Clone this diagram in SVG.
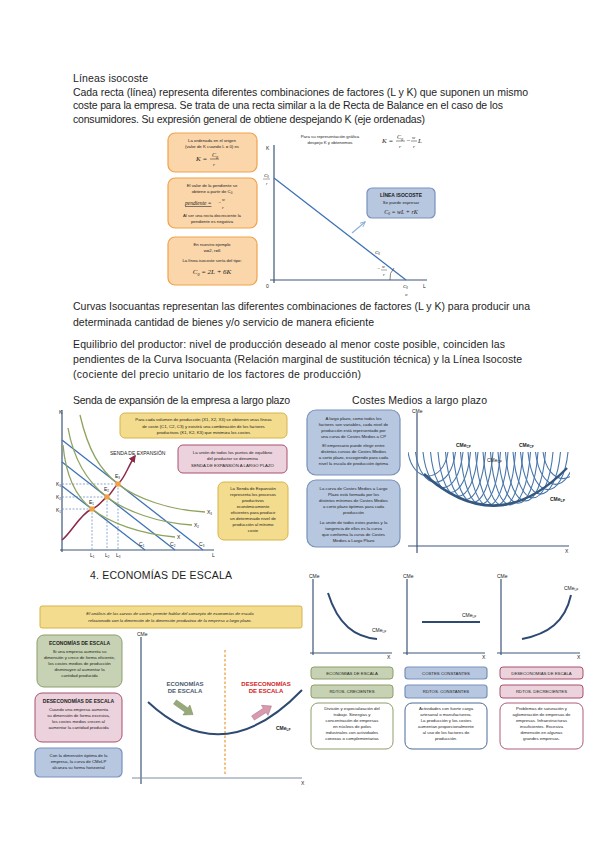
<svg xmlns="http://www.w3.org/2000/svg" width="600" height="848" viewBox="0 0 600 848">
<defs>
<style>
.t{font-family:"Liberation Sans",Arial,sans-serif;font-size:10.5px;fill:#1e1e1e}
.s{font-family:"Liberation Sans",Arial,sans-serif;font-size:4.3px;fill:#222;text-anchor:middle}
.sb{font-family:"Liberation Sans",Arial,sans-serif;font-size:5px;fill:#222;text-anchor:middle;font-weight:bold}
.f{font-family:"Liberation Serif","Times New Roman",serif;font-style:italic;fill:#222}
.lab{font-family:"Liberation Sans",Arial,sans-serif;font-size:5px;fill:#222}
.ax{stroke:#3d5678;stroke-width:1.2;fill:none}
.or{fill:#fad6aa;stroke:#f0a24a;stroke-width:1.2}
.bl{fill:#b7c7e0;stroke:#7892bb;stroke-width:1.2}
.yl{fill:#f4dc8e;stroke:#d6b44c;stroke-width:1}
.pk{fill:#ecd2dc;stroke:#a8506e;stroke-width:1}
.gr{fill:#c6d2b3;stroke:#8d9e6c;stroke-width:1}
.iso{stroke:#3f73b5;stroke-width:1.3;fill:none}
.q{stroke:#8ea35e;stroke-width:1.3;fill:none}
.sr{stroke:#4876aa;stroke-width:1.1;fill:none}
.dash{stroke:#6f94c8;stroke-width:0.8;stroke-dasharray:2,1.5;fill:none}
</style>
<marker id="ah" viewBox="0 0 10 10" refX="8" refY="5" markerWidth="5" markerHeight="5" orient="auto"><path d="M0,0 L10,5 L0,10 z" fill="#8c2a48"/></marker>
<marker id="ab" viewBox="0 0 10 10" refX="8" refY="5" markerWidth="5" markerHeight="5" orient="auto"><path d="M0,1 L9,5 L0,9" fill="none" stroke="#8fb0d8" stroke-width="1.5"/></marker>
<clipPath id="cmclip"><rect x="408" y="440" width="162" height="110"/></clipPath>
</defs>
<rect width="600" height="848" fill="#ffffff"/>

<!-- Top texts -->
<g id="text-top">
<text class="t" x="73" y="82" textLength="75">Líneas isocoste</text>
<text class="t" x="73" y="96" textLength="455">Cada recta (línea) representa diferentes combinaciones de factores (L y K) que suponen un mismo</text>
<text class="t" x="73" y="109" textLength="430">coste para la empresa. Se trata de una recta similar a la de Recta de Balance en el caso de los</text>
<text class="t" x="73" y="123" textLength="352">consumidores. Su expresión general de obtiene despejando K (eje ordenadas)</text>
</g>

<!-- Isocost section -->
<g id="iso-box1">
<rect class="or" x="168" y="133" width="89" height="39" rx="7"/>
<text class="s" x="212" y="142">La ordenada en el origen</text>
<text class="s" x="212" y="148">(valor de K cuando L = 0) es</text>
<text class="f" x="196" y="161" font-size="7">K =</text>
<text class="f" x="212" y="157" font-size="6">C<tspan font-size="4" dy="1.5">0</tspan></text>
<line x1="210" y1="159" x2="219" y2="159" stroke="#222" stroke-width="0.5"/>
<text class="f" x="213" y="166" font-size="5">r</text>
</g>
<g id="iso-box2">
<rect class="or" x="168" y="178" width="89" height="50" rx="7"/>
<text class="s" x="212" y="187">El valor de la pendiente se</text>
<text class="s" x="212" y="193">obtiene a partir de C<tspan font-size="3" dy="1">0</tspan></text>
<text class="f" x="185" y="205" font-size="5.5" text-decoration="underline">pendiente =</text>
<text class="f" x="218" y="204" font-size="5">−</text>
<text class="f" x="222" y="201" font-size="4.5">w</text>
<text class="f" x="222" y="209" font-size="4.5">r</text>
<text class="s" x="212" y="217">Al ser una recta decreciente la</text>
<text class="s" x="212" y="223">pendiente es negativa</text>
</g>
<g id="iso-box3">
<rect class="or" x="168" y="237" width="89" height="48" rx="7"/>
<text class="s" x="212" y="246">En nuestro ejemplo</text>
<text class="s" x="212" y="252">w=2, r=6</text>
<text class="s" x="212" y="262">La línea isocoste sería del tipo:</text>
<text class="f" x="212" y="274" font-size="7" text-anchor="middle">C<tspan font-size="4" dy="1.5">0</tspan><tspan dy="-1.5"> = 2L + 6K</tspan></text>
</g>
<g id="iso-formula">
<text class="s" x="330" y="138">Para su representación gráfica</text>
<text class="s" x="330" y="144">despejo K y obtenemos</text>
<text class="f" x="382" y="143" font-size="7">K =</text>
<text class="f" x="397" y="139" font-size="6">C<tspan font-size="4" dy="1.5">0</tspan></text>
<line x1="396" y1="141" x2="405" y2="141" stroke="#222" stroke-width="0.5"/>
<text class="f" x="399" y="148" font-size="5">r</text>
<text class="f" x="406" y="143" font-size="7">−</text>
<text class="f" x="412" y="139" font-size="5">w</text>
<line x1="411" y1="141" x2="417" y2="141" stroke="#222" stroke-width="0.5"/>
<text class="f" x="413" y="148" font-size="5">r</text>
<text class="f" x="418" y="143" font-size="7">L</text>
</g>
<g id="iso-chart">
<line class="ax" x1="274" y1="145" x2="274" y2="283"/>
<line class="ax" x1="270" y1="280" x2="427" y2="280"/>
<line x1="274" y1="178" x2="406" y2="280" stroke="#3f73b5" stroke-width="1.3"/>
<text class="lab" x="266" y="150">K</text>
<text class="f" x="264" y="177" font-size="5">C<tspan font-size="3" dy="1">0</tspan></text>
<line x1="263" y1="179" x2="270" y2="179" stroke="#222" stroke-width="0.4"/>
<text class="f" x="266" y="185" font-size="4">r</text>
<text class="lab" x="266" y="288">0</text>
<text class="f" x="403" y="288" font-size="5">C<tspan font-size="3" dy="1">0</tspan></text>
<text class="f" x="405" y="296" font-size="4">w</text>
<text class="lab" x="423" y="288">L</text>
<text class="f" x="375" y="254" font-size="5">C<tspan font-size="3" dy="1">0</tspan></text>
<text class="f" x="377" y="270" font-size="5">−</text>
<text class="f" x="382" y="268" font-size="4.5">w</text>
<line x1="381" y1="270" x2="387" y2="270" stroke="#222" stroke-width="0.4"/>
<text class="f" x="383" y="276" font-size="4.5">r</text>
<path d="M390,280 Q389,273 394,268" fill="none" stroke="#333" stroke-width="0.6"/>
</g>
<g id="iso-label">
<rect class="bl" x="367" y="188" width="68" height="30" rx="5" fill="#c7d4e8"/>
<text class="sb" x="401" y="197" font-size="4.5">LÍNEA ISOCOSTE</text>
<text class="s" x="401" y="204">Se puede expresar</text>
<text class="f" x="401" y="214" font-size="6" text-anchor="middle">C<tspan font-size="3.5" dy="1">0</tspan><tspan dy="-1"> = wL + rK</tspan></text>
</g>
<g id="connectors-iso">
<line x1="352" y1="233" x2="365" y2="222" stroke="#8fb0d8" stroke-width="1.2" marker-end="url(#ab)"/>
</g>

<!-- Middle text -->
<g id="text-mid">
<text class="t" x="73" y="310" textLength="457">Curvas Isocuantas representan las diferentes combinaciones de factores (L y K) para producir una</text>
<text class="t" x="73" y="326" textLength="301">determinada cantidad de bienes y/o servicio de manera eficiente</text>
<text class="t" x="73" y="348" textLength="432">Equilibrio del productor: nivel de producción deseado al menor coste posible, coinciden las</text>
<text class="t" x="73" y="363" textLength="449">pendientes de la Curva Isocuanta (Relación marginal de sustitución técnica) y la Línea Isocoste</text>
<text class="t" x="73" y="378" textLength="288">(cociente del precio unitario de los factores de producción)</text>
</g>

<!-- Senda de expansión -->
<g id="senda-title"><text class="t" x="73" y="404" font-size="11" textLength="217">Senda de expansión de la empresa a largo plazo</text></g>
<g id="senda-chart">
<line class="ax" x1="62" y1="410" x2="62" y2="552"/>
<line class="ax" x1="60" y1="550" x2="214" y2="550"/>
<text class="lab" x="59" y="414">K</text>
<text class="lab" x="56" y="486">K<tspan font-size="3" dy="1">3</tspan></text>
<text class="lab" x="56" y="499">K<tspan font-size="3" dy="1">2</tspan></text>
<text class="lab" x="56" y="512">K<tspan font-size="3" dy="1">1</tspan></text>
<text class="lab" x="90" y="557">L<tspan font-size="3" dy="1">1</tspan></text>
<text class="lab" x="105" y="557">L<tspan font-size="3" dy="1">2</tspan></text>
<text class="lab" x="116" y="557">L<tspan font-size="3" dy="1">3</tspan></text>
<text class="lab" x="212" y="557">L</text>
<line class="dash" x1="62" y1="484" x2="118" y2="484"/>
<line class="dash" x1="62" y1="497" x2="107" y2="497"/>
<line class="dash" x1="62" y1="509" x2="92" y2="509"/>
<line class="dash" x1="118" y1="484" x2="118" y2="550"/>
<line class="dash" x1="107" y1="497" x2="107" y2="550"/>
<line class="dash" x1="92" y1="509" x2="92" y2="550"/>
<line class="iso" x1="62" y1="440" x2="203" y2="550"/>
<line class="iso" x1="62" y1="462" x2="175" y2="550"/>
<line class="iso" x1="62" y1="486" x2="145" y2="550"/>
<text class="lab" x="139" y="546">C<tspan font-size="3" dy="1">1</tspan></text>
<text class="lab" x="170" y="546">C<tspan font-size="3" dy="1">2</tspan></text>
<text class="lab" x="199" y="546">C<tspan font-size="3" dy="1">3</tspan></text>
<path class="q" d="M80,415 C88,450 100,470 118,484 C136,498 168,510 205,512"/>
<path class="q" d="M68,428 C74,462 90,484 107,497 C125,511 158,523 192,525"/>
<path class="q" d="M63,445 C66,478 76,497 92,509 C110,523 140,534 175,537"/>
<text class="lab" x="207" y="514">X<tspan font-size="3" dy="1">3</tspan></text>
<text class="lab" x="194" y="527">X<tspan font-size="3" dy="1">2</tspan></text>
<text class="lab" x="177" y="539">X</text>
<path d="M62,540 C72,532 80,514 92,509 C100,506 102,500 107,497 C112,494 113,488 118,484 C125,478 128,466 135,456" fill="none" stroke="#8c2a48" stroke-width="1.5" marker-end="url(#ah)"/>
<text class="lab" x="110" y="455" font-size="4.2">SENDA DE EXPANSIÓN</text>
<rect x="89.5" y="506.5" width="5" height="5" fill="#f0a040"/>
<rect x="104.5" y="494.5" width="5" height="5" fill="#f0a040"/>
<rect x="115.5" y="481.5" width="5" height="5" fill="#f0a040"/>
<text class="lab" x="89" y="504" font-size="4">E<tspan font-size="3" dy="1">1</tspan></text>
<text class="lab" x="104" y="491" font-size="4">E<tspan font-size="3" dy="1">2</tspan></text>
<text class="lab" x="115" y="478" font-size="4">E<tspan font-size="3" dy="1">3</tspan></text>
</g>
<g id="senda-box1">
<rect class="yl" x="120" y="413" width="167" height="25" rx="5"/>
<text class="s" x="203.5" y="421">Para cada volumen de producción (X1, X2, X3) se obtienen unas líneas</text>
<text class="s" x="203.5" y="427.5">de coste (C1, C2, C3) y existirá una combinación de los factores</text>
<text class="s" x="203.5" y="434">productivos (K1, K2, K3) que minimiza los costes</text>
</g>
<g id="senda-box2">
<rect class="pk" x="178" y="445" width="109" height="28" rx="5"/>
<text class="s" x="232.5" y="454">La unión de todos los puntos de equilibrio</text>
<text class="s" x="232.5" y="460">del productor se denomina</text>
<text class="s" x="232.5" y="466.5">SENDA DE EXPANSIÓN A LARGO PLAZO</text>
</g>
<g id="senda-box3">
<rect class="yl" x="218" y="482" width="70" height="58" rx="6"/>
<text class="s" x="253" y="490">La Senda de Expansión</text>
<text class="s" x="253" y="496">representa los procesos</text>
<text class="s" x="253" y="502">productivos</text>
<text class="s" x="253" y="508">económicamente</text>
<text class="s" x="253" y="514">eficientes para producir</text>
<text class="s" x="253" y="520">un determinado nivel de</text>
<text class="s" x="253" y="526">producción al mínimo</text>
<text class="s" x="253" y="532">coste</text>
</g>

<!-- Costes medios -->
<g id="cm-title"><text class="t" x="352" y="404" font-size="11" textLength="135">Costes Medios a largo plazo</text></g>
<g id="cm-box1">
<rect class="bl" x="307" y="410" width="93" height="65" rx="9"/>
<text class="s" x="353.5" y="420">A largo plazo, como todos los</text>
<text class="s" x="353.5" y="426">factores son variables, cada nivel de</text>
<text class="s" x="353.5" y="432">producción está representado por</text>
<text class="s" x="353.5" y="438">una curva de Costes Medios a CP</text>
<text class="s" x="353.5" y="447">El empresario puede elegir entre</text>
<text class="s" x="353.5" y="453">distintas curvas de Costes Medios</text>
<text class="s" x="353.5" y="459">a corto plazo, escogiendo para cada</text>
<text class="s" x="353.5" y="465">nivel la escala de producción óptima</text>
</g>
<g id="cm-box2">
<rect class="bl" x="307" y="480" width="93" height="67" rx="9"/>
<text class="s" x="353.5" y="490">La curva de Costes Medios a Largo</text>
<text class="s" x="353.5" y="496">Plazo está formada por los</text>
<text class="s" x="353.5" y="502">distintos mínimos de Costes Medios</text>
<text class="s" x="353.5" y="508">a corto plazo óptimos para cada</text>
<text class="s" x="353.5" y="514">producción</text>
<text class="s" x="353.5" y="524">La unión de todos estos puntos y la</text>
<text class="s" x="353.5" y="530">tangencia de ellos es la curva</text>
<text class="s" x="353.5" y="536">que conforma la curva de Costes</text>
<text class="s" x="353.5" y="542">Medios a Largo Plazo</text>
</g>
<g id="cm-chart">
<line class="ax" x1="417" y1="413" x2="417" y2="553"/>
<line class="ax" x1="408" y1="546" x2="569" y2="546"/>
<text class="lab" x="412" y="413" font-size="4.5">CMe</text>
<text class="lab" x="565" y="553" font-size="4.5">X</text>
<g clip-path="url(#cmclip)">
<path class="sr" d="M408,452 C413,484 443,484 448,452"/>
<path class="sr" d="M415.5,452 C420.5,492.3 450.5,492.3 455.5,452"/>
<path class="sr" d="M423,452 C428,499.5 458,499.5 463,452"/>
<path class="sr" d="M430.5,452 C435.5,505.9 465.5,505.9 470.5,452"/>
<path class="sr" d="M438,452 C443,511.2 473,511.2 478,452"/>
<path class="sr" d="M445.5,452 C450.5,515.6 480.5,515.6 485.5,452"/>
<path class="sr" d="M453,452 C458,519.2 488,519.2 493,452"/>
<path class="sr" d="M460.5,452 C465.5,521.7 495.5,521.7 500.5,452"/>
<path class="sr" d="M468,452 C473,523.3 503,523.3 508,452"/>
<path class="sr" d="M475.5,452 C480.5,524 510.5,524 515.5,452"/>
<path class="sr" d="M483,452 C488,523.7 518,523.7 523,452"/>
<path class="sr" d="M490.5,452 C495.5,522.5 525.5,522.5 530.5,452"/>
<path class="sr" d="M498,452 C503,520.3 533,520.3 538,452"/>
<path class="sr" d="M505.5,452 C510.5,517.2 540.5,517.2 545.5,452"/>
<path class="sr" d="M513,452 C518,513.1 548,513.1 553,452"/>
<path class="sr" d="M520.5,452 C525.5,508.1 555.5,508.1 560.5,452"/>
<path class="sr" d="M528,452 C533,502.1 563,502.1 568,452"/>
<path class="sr" d="M535.5,452 C540.5,495.2 570.5,495.2 575.5,452"/>
<path class="sr" d="M543,452 C548,487.5 578,487.5 583,452"/>
</g>
<path d="M424,474 Q497,540 567,468" fill="none" stroke="#34587f" stroke-width="2.5"/>
<text class="lab" x="456" y="447" font-size="4.5" font-weight="bold">CMe<tspan font-size="3" dy="1">CP</tspan></text>
<text class="lab" x="519" y="447" font-size="4.5" font-weight="bold">CMe<tspan font-size="3" dy="1">CP</tspan></text>
<text class="lab" x="487" y="462" font-size="4.5" fill="#b03030">CMe<tspan font-size="3" dy="1">CP</tspan></text>
<text class="lab" x="550" y="501" font-size="5" font-weight="bold" fill="#34587f">CMe<tspan font-size="3.5" dy="1">LP</tspan></text>
</g>

<!-- Economías de escala -->
<g id="eco-title"><text class="t" x="90" y="579" textLength="142">4.   ECONOMÍAS DE ESCALA</text></g>
<g id="eco-banner">
<rect class="yl" x="40" y="606" width="262" height="22" rx="2"/>
<text class="s" x="170" y="615" font-style="italic" font-size="4.5">El análisis de las curvas de costes permite hablar del concepto de economías de escala</text>
<text class="s" x="170" y="622" font-style="italic" font-size="4.5">relacionado con la dimensión de la dimensión productiva de la empresa a largo plazo.</text>
</g>
<g id="eco-box1">
<rect class="gr" x="37" y="635" width="85" height="52" rx="7"/>
<text class="sb" x="79.5" y="645">ECONOMÍAS DE ESCALA</text>
<text class="s" x="79.5" y="653">Si una empresa aumenta su</text>
<text class="s" x="79.5" y="659">dimensión y crece de forma eficiente,</text>
<text class="s" x="79.5" y="665">los costes medios de producción</text>
<text class="s" x="79.5" y="671">disminuyen al aumentar la</text>
<text class="s" x="79.5" y="677">cantidad producida</text>
</g>
<g id="eco-box2">
<rect class="pk" x="35" y="693" width="87" height="49" rx="7"/>
<text class="sb" x="78.5" y="703">DESECONOMÍAS DE ESCALA</text>
<text class="s" x="78.5" y="711">Cuando una empresa aumenta</text>
<text class="s" x="78.5" y="717">su dimensión de forma excesiva,</text>
<text class="s" x="78.5" y="723">los costes medios crecen al</text>
<text class="s" x="78.5" y="729">aumentar la cantidad producida</text>
</g>
<g id="eco-box3">
<rect class="bl" x="35" y="748" width="87" height="29" rx="5"/>
<text class="s" x="78.5" y="757">Con la dimensión óptima de la</text>
<text class="s" x="78.5" y="763">empresa, la curva de CMeLP</text>
<text class="s" x="78.5" y="769">alcanza su forma horizontal</text>
</g>
<g id="eco-chart">
<line class="ax" x1="141" y1="637" x2="141" y2="784"/>
<line x1="132" y1="778" x2="302" y2="778" stroke="#7f8fa0" stroke-width="1.2"/>
<text class="lab" x="137" y="636" font-size="4.5" fill="#b03030">CMe</text>
<text class="lab" x="301" y="785" font-size="4.5">X</text>
<line x1="225" y1="650" x2="225" y2="776" stroke="#f0a040" stroke-width="1.3" stroke-dasharray="2.5,2"/>
<path d="M148,702 Q223,772 302,690" fill="none" stroke="#2f4a72" stroke-width="2"/>
<text class="lab" x="276" y="730" font-size="5" font-weight="bold" fill="#2f4a72">CMe<tspan font-size="3" dy="1">LP</tspan></text>
<text x="185" y="686" text-anchor="middle" font-family="Liberation Sans,Arial,sans-serif" font-size="6" font-weight="bold" fill="#4a5a6e">ECONOMÍAS</text>
<text x="185" y="693" text-anchor="middle" font-family="Liberation Sans,Arial,sans-serif" font-size="6" font-weight="bold" fill="#4a5a6e">DE ESCALA</text>
<text x="266" y="686" text-anchor="middle" font-family="Liberation Sans,Arial,sans-serif" font-size="6" font-weight="bold" fill="#d42020">DESECONOMÍAS</text>
<text x="266" y="693" text-anchor="middle" font-family="Liberation Sans,Arial,sans-serif" font-size="6" font-weight="bold" fill="#d42020">DE ESCALA</text>
<polygon points="0,-2.5 14,-2.5 14,-6 22,0 14,6 14,2.5 0,2.5" transform="translate(175,702) rotate(35)" fill="#98a97a" stroke="#7a8c5c" stroke-width="0.5"/>
<polygon points="0,-2.5 14,-2.5 14,-6 22,0 14,6 14,2.5 0,2.5" transform="translate(253,718) rotate(-33)" fill="#d79aae" stroke="#b07088" stroke-width="0.5"/>
</g>

<!-- Three panels -->
<g id="panel1">
<line class="ax" x1="313" y1="579" x2="313" y2="655"/>
<line class="ax" x1="310" y1="653" x2="392" y2="653"/>
<text class="lab" x="309" y="578" font-size="4.5">CMe</text>
<text class="lab" x="387" y="659" font-size="4.5">X</text>
<path d="M328,593 C338,625 355,637 377,639" fill="none" stroke="#2f4a72" stroke-width="2"/>
<text class="lab" x="372" y="632" font-size="4.5">CMe<tspan font-size="3" dy="1">LP</tspan></text>
</g>
<g id="panel2">
<line class="ax" x1="407" y1="579" x2="407" y2="655"/>
<line class="ax" x1="403" y1="653" x2="485" y2="653"/>
<text class="lab" x="403" y="578" font-size="4.5">CMe</text>
<text class="lab" x="482" y="659" font-size="4.5">X</text>
<line x1="422" y1="622" x2="480" y2="622" stroke="#2f4a72" stroke-width="2"/>
<text class="lab" x="462" y="617" font-size="4.5">CMe<tspan font-size="3" dy="1">LP</tspan></text>
</g>
<g id="panel3">
<line class="ax" x1="501" y1="579" x2="501" y2="655"/>
<line class="ax" x1="497" y1="653" x2="580" y2="653"/>
<text class="lab" x="497" y="578" font-size="4.5">CMe</text>
<text class="lab" x="577" y="659" font-size="4.5">X</text>
<path d="M522,639 C548,634 565,622 571,595" fill="none" stroke="#2f4a72" stroke-width="2"/>
<text class="lab" x="564" y="590" font-size="4.5">CMe<tspan font-size="3" dy="1">LP</tspan></text>
</g>
<g id="row1">
<rect class="gr" x="311" y="667" width="82" height="12" rx="3"/>
<text class="s" x="352" y="674.5" font-size="4.2">ECONOMÍAS DE ESCALA</text>
<rect class="bl" x="405" y="667" width="82" height="12" rx="3"/>
<text class="s" x="446" y="674.5" font-size="4.2">COSTES CONSTANTES</text>
<rect class="pk" x="500" y="667" width="83" height="12" rx="3"/>
<text class="s" x="541.5" y="674.5" font-size="4.2">DESECONOMÍAS DE ESCALA</text>
</g>
<g id="row2">
<rect class="gr" x="311" y="685" width="82" height="13" rx="3"/>
<text class="s" x="352" y="693" font-size="4.2">RDTOS. CRECIENTES</text>
<rect class="bl" x="405" y="685" width="82" height="13" rx="3"/>
<text class="s" x="446" y="693" font-size="4.2">RDTOS. CONSTANTES</text>
<rect class="pk" x="500" y="685" width="83" height="13" rx="3"/>
<text class="s" x="541.5" y="693" font-size="4.2">RDTOS. DECRECIENTES</text>
</g>
<g id="row3">
<rect x="311" y="703" width="82" height="46" rx="7" fill="#fff" stroke="#8d9e6c" stroke-width="1"/>
<text class="s" x="352" y="710">División y especialización del</text>
<text class="s" x="352" y="716">trabajo. Sinergias y</text>
<text class="s" x="352" y="722">concentración de empresas</text>
<text class="s" x="352" y="728">en núcleos de polos</text>
<text class="s" x="352" y="734">industriales con actividades</text>
<text class="s" x="352" y="740">conexas o complementarias</text>
<rect x="405" y="703" width="82" height="46" rx="7" fill="#fff" stroke="#4a6a9a" stroke-width="1"/>
<text class="s" x="446" y="710">Actividades con fuerte carga</text>
<text class="s" x="446" y="716">artesanal o manufacturera.</text>
<text class="s" x="446" y="722">La producción y los costes</text>
<text class="s" x="446" y="728">aumentan proporcionalmente</text>
<text class="s" x="446" y="734">al uso de los factores de</text>
<text class="s" x="446" y="740">producción.</text>
<rect x="500" y="703" width="83" height="46" rx="7" fill="#fff" stroke="#b05a7a" stroke-width="1"/>
<text class="s" x="541.5" y="710">Problemas de saturación y</text>
<text class="s" x="541.5" y="716">aglomeración de empresas de</text>
<text class="s" x="541.5" y="722">empresas. Infraestructuras</text>
<text class="s" x="541.5" y="728">insuficientes. Excesiva</text>
<text class="s" x="541.5" y="734">dimensión en algunas</text>
<text class="s" x="541.5" y="740">grandes empresas.</text>
</g>
</svg>
